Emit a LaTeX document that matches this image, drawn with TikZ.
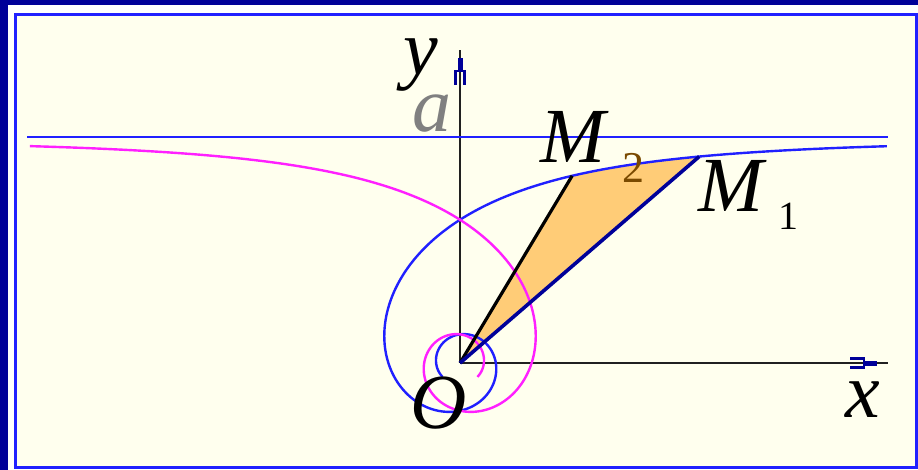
\documentclass[tikz,border=0pt]{standalone}
\usepackage{fontspec}
\setmainfont{Liberation Serif}
\definecolor{cream}{HTML}{FFFFEE}
\definecolor{navy}{HTML}{000099}
\definecolor{cblue}{HTML}{2020FF}
\definecolor{cmag}{HTML}{FF20FF}
\definecolor{corange}{HTML}{FFCC77}
\definecolor{axisdark}{HTML}{202020}
\definecolor{subbrown}{HTML}{7A4A00}
\tikzset{
  lab/.style={inner sep=0pt, outer sep=0pt, font=\fontsize{78}{80}\selectfont\itshape},
  sublab/.style={inner sep=0pt, outer sep=0pt, font=\fontsize{44}{46}\selectfont},
  spiral/.style={line width=2.4pt, line join=round},
  axisline/.style={axisdark, line width=2.6pt},
  axtip/.pic={
    \draw[navy, line width=5pt] (-14,0) -- (0,0);
    \draw[navy, line width=2.5pt] (-27,-4.5) -- (-13,-4.5) -- (-13,4.5) -- (-27,4.5);
  }
}
\begin{document}
\begin{tikzpicture}[x=1pt,y=-1pt]
\useasboundingbox (0,0) rectangle (918,470);
% background and frame
\fill[white] (0,0) rectangle (918,470);
\fill[cream] (15,15) rectangle (918,467);
\fill[navy] (0,0) rectangle (918,5);
\fill[navy] (0,0) rectangle (8,470);
\draw[cblue, line width=3pt] (15,15) rectangle (916,467);
% key points
\coordinate (O) at (460,363);
\coordinate (M1) at ({460+225*cos(0.712 r)/0.712},{363-225*sin(0.712 r)/0.712});
\coordinate (M2) at ({460+225*cos(1.031 r)/1.031},{363-225*sin(1.031 r)/1.031});
\coordinate (Yend) at (460,50);
\coordinate (Xend) at (888,363);
\coordinate (Aleft) at (27,137);
\coordinate (Aright) at (888,137);
% sector
\fill[corange] (O) -- plot[domain=1.031:0.712, samples=40, variable=\t]
  ({460+225*cos(\t r)/\t},{363-225*sin(\t r)/\t}) -- cycle;
% axes
\draw[axisline] (O) -- (Yend);
\draw[axisline] (O) -- (Xend);
\pic at (877,363) {axtip};
\pic[rotate=90] at (460,58) {axtip};
% asymptote
\draw[cblue, line width=2.4pt] (Aleft) -- (Aright);
% spirals
\draw[cblue, spiral] plot[domain=0.47:10.1, samples=500, variable=\t]
  ({460+225*cos(\t r)/\t},{363-225*sin(\t r)/\t});
\draw[cmag, spiral] plot[domain=0.467:10.1, samples=500, variable=\t]
  ({460-225*cos(\t r)/\t},{363-225*sin(\t r)/\t});
% radii
\draw[black, line width=3.2pt] (O) -- (M2);
\draw[navy, line width=3.6pt] (O) -- (M1);
% labels
\node[lab, anchor=base west] (ylab) at (403,75) {y};
\node[lab, anchor=base west, text=gray] (alab) at (412,132) {a};
\node[lab, anchor=base west] (M2lab) at (540,163) {M};
\node[sublab, anchor=base west, text=subbrown] (M2sub) at (622,183) {2};
\node[lab, anchor=base west] (M1lab) at (698,212) {M};
\node[sublab, anchor=base west, font=\fontsize{40}{42}\selectfont] (M1sub) at (778,230) {1};
\node[lab, anchor=base west] (Olab) at (410,428) {O};
\node[lab, anchor=base west] (xlab) at (845,417) {x};
\end{tikzpicture}
\end{document}
